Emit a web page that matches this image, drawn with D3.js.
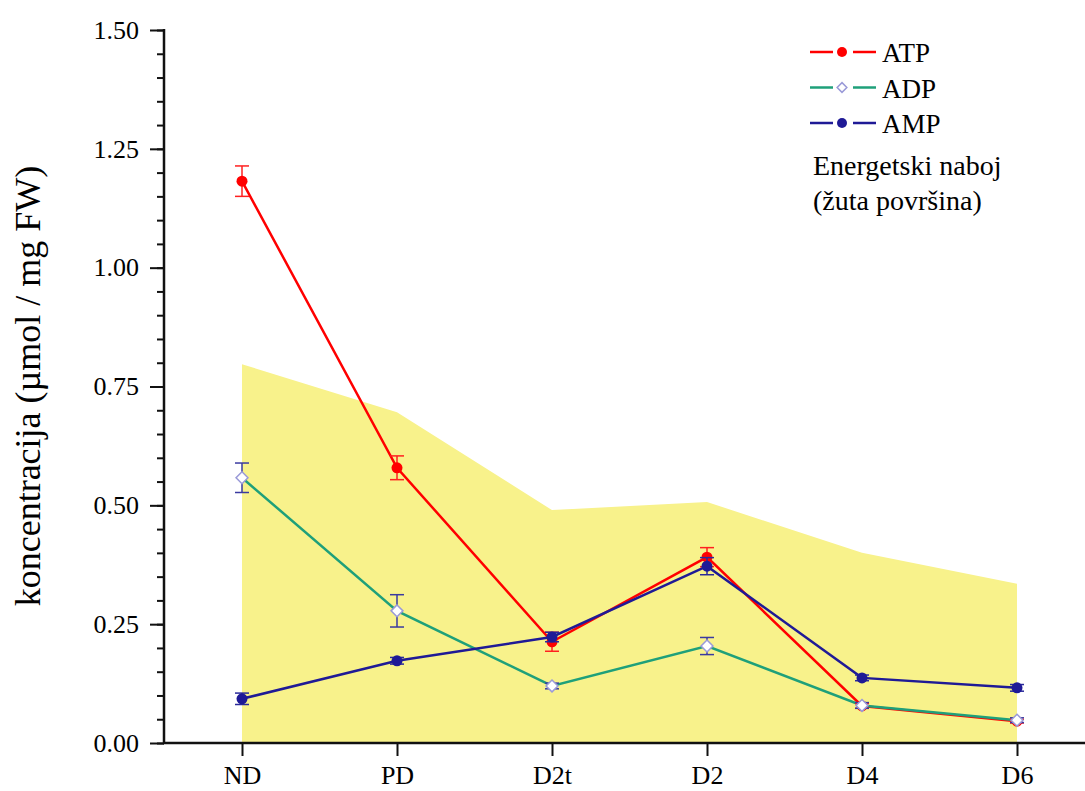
<!DOCTYPE html>
<html><head><meta charset="utf-8">
<script src="https://cdn.jsdelivr.net/npm/d3@7"></script>
<style>
body{margin:0;background:#fff;}
text{font-family:"Liberation Serif","Times New Roman",serif;fill:#000;}
</style></head>
<body><svg id="c" width="1085" height="791"></svg>
<script>
const categories = ["ND","PD","D2t","D2","D4","D6"];
const atp = [1.182, 0.579, 0.213, 0.391, 0.078, 0.046];
const atpErr = [0.032, 0.025, 0.02, 0.02, 0.005, 0.004];
const adp = [0.558, 0.278, 0.120, 0.204, 0.079, 0.048];
const adpErr = [0.031, 0.034, 0.006, 0.018, 0.006, 0.005];
const amp = [0.093, 0.173, 0.223, 0.372, 0.137, 0.116];
const ampErr = [0.012, 0.007, 0.010, 0.018, 0.006, 0.007];
const energyCharge = [0.797, 0.696, 0.490, 0.507, 0.400, 0.335];
const yTicks = [0, 0.25, 0.5, 0.75, 1.0, 1.25, 1.5];
const yMinorTicks = d3.range(0, 1.5001, 0.05);

const svg = d3.select("#c");
const X0 = 164, X1 = 1085, Y0 = 743, Y1 = 30;
const x = d3.scalePoint().domain(categories).range([242, 1017]);
const y = d3.scaleLinear().domain([0, 1.5]).range([Y0, Y1]);

// yellow area
svg.append("path")
  .datum(energyCharge)
  .attr("d", d3.area().x((d,i)=>x(categories[i])).y0(y(0)).y1(d=>y(d)))
  .attr("fill", "#f8f28b");

// axes
const yAxis = d3.axisLeft(y).tickValues(yTicks).tickFormat(d3.format(".2f")).tickSize(14).tickPadding(11);
const yMinor = d3.axisLeft(y).tickValues(yMinorTicks).tickFormat("").tickSize(7);
const gy2 = svg.append("g").attr("transform", `translate(${X0},0)`).call(yMinor);
const gy = svg.append("g").attr("transform", `translate(${X0},0)`).call(yAxis);
[gy, gy2].forEach(g=>{
  g.select(".domain").remove();
  g.selectAll("line").attr("stroke","#111").attr("stroke-width",2);
});
gy.selectAll("text").attr("font-size",26).attr("font-family","Liberation Serif").attr("fill","#000");
svg.append("line").attr("x1",X0).attr("x2",X0).attr("y1",Y1-1).attr("y2",Y0+1).attr("stroke","#111").attr("stroke-width",2.5);

const xAxis = d3.axisBottom(x).tickSize(13).tickPadding(10);
const gx = svg.append("g").attr("transform", `translate(0,${Y0})`).call(xAxis);
gx.select(".domain").remove();
gx.selectAll("line").attr("stroke","#111").attr("stroke-width",2);
gx.selectAll("text").attr("font-size",26).attr("font-family","Liberation Serif").attr("fill","#000");
svg.append("line").attr("x1",X0-1).attr("x2",X1).attr("y1",Y0).attr("y2",Y0).attr("stroke","#111").attr("stroke-width",2.5);

// y label
svg.append("text").attr("transform",`translate(40,386) rotate(-90)`)
  .attr("text-anchor","middle").attr("font-size",36).text("koncentracija (µmol / mg FW)");

const series = [
  {name:"ATP", vals:atp, err:atpErr, color:"#ff0000", errColor:"#ff2020", marker:"circle"},
  {name:"ADP", vals:adp, err:adpErr, color:"#1fa07a", errColor:"#3a3aa0", marker:"diamond"},
  {name:"AMP", vals:amp, err:ampErr, color:"#1f1a96", errColor:"#2a2a9a", marker:"circle"}
];
const line = d3.line().x((d,i)=>x(categories[i])).y(d=>y(d));

series.forEach(s=>{
  svg.append("path").datum(s.vals).attr("d", line).attr("fill","none")
    .attr("stroke", s.color).attr("stroke-width", 2.5);
});
series.forEach(s=>{
  const g = svg.append("g");
  s.vals.forEach((v,i)=>{
    const cx = x(categories[i]);
    const e = s.err[i];
    g.append("line").attr("x1",cx).attr("x2",cx).attr("y1",y(v+e)).attr("y2",y(v-e)).attr("stroke",s.errColor).attr("stroke-width",1.5);
    [v+e, v-e].forEach(t=>g.append("line").attr("x1",cx-7).attr("x2",cx+7).attr("y1",y(t)).attr("y2",y(t)).attr("stroke",s.errColor).attr("stroke-width",1.5));
    if (s.marker==="circle") {
      g.append("circle").attr("cx",cx).attr("cy",y(v)).attr("r",5.5).attr("fill",s.color);
    } else {
      g.append("path").attr("d", d3.symbol(d3.symbolDiamond2, 90)()).attr("transform",`translate(${cx},${y(v)})`)
        .attr("fill","#fff").attr("stroke","#9a9ad8").attr("stroke-width",1.5);
    }
  });
});

// legend
const lg = svg.append("g");
series.forEach((s,i)=>{
  const yy = 52 + i*35.5;
  lg.append("line").attr("x1",810).attr("x2",833).attr("y1",yy).attr("y2",yy).attr("stroke",s.color).attr("stroke-width",2.5);
  lg.append("line").attr("x1",853).attr("x2",876).attr("y1",yy).attr("y2",yy).attr("stroke",s.color).attr("stroke-width",2.5);
  if (s.marker==="circle") lg.append("circle").attr("cx",842).attr("cy",yy).attr("r",5).attr("fill",s.color);
  else lg.append("path").attr("d", d3.symbol(d3.symbolDiamond2, 60)()).attr("transform",`translate(842,${yy})`).attr("fill","#fff").attr("stroke","#9a9ad8").attr("stroke-width",1.5);
  lg.append("text").attr("x",882).attr("y",yy+10).attr("font-size",27).text(s.name);
});
lg.append("text").attr("x",813).attr("y",175).attr("font-size",28).text("Energetski naboj");
lg.append("text").attr("x",813).attr("y",210).attr("font-size",28).text("(žuta površina)");
</script></body></html>
